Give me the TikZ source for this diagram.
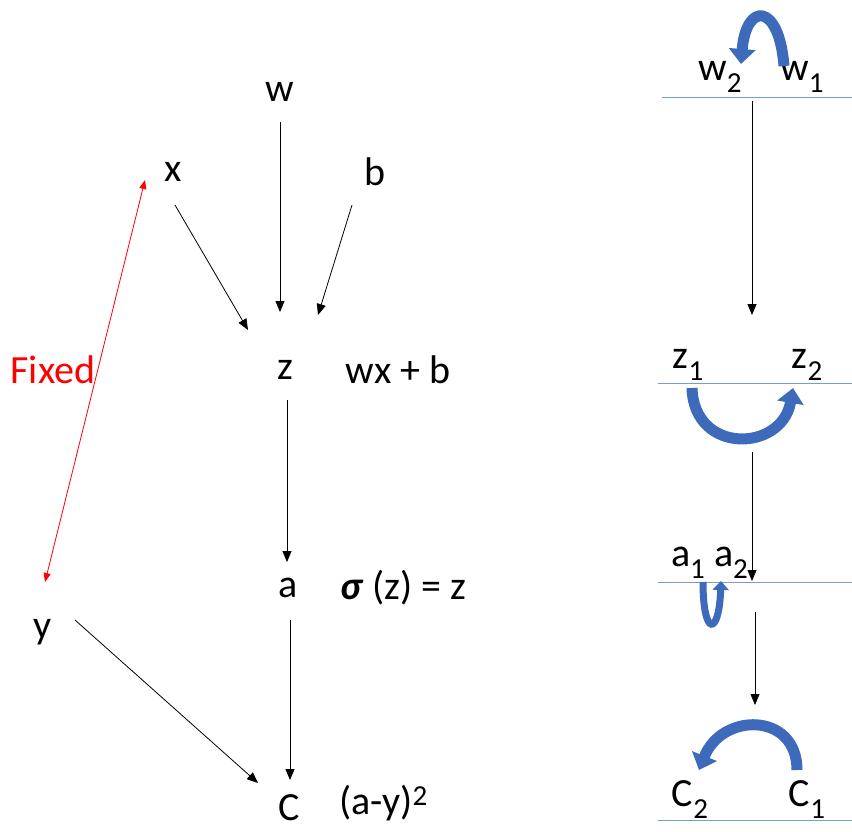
\documentclass[tikz,border=0pt]{standalone}
\usepackage{fontspec}
\setmainfont{Carlito}
\usetikzlibrary{arrows.meta}
\definecolor{bluearc}{RGB}{62,106,188}
\definecolor{lineblue}{RGB}{120,155,215}
\newcommand{\lowidx}[1]{\raisebox{-0.3em}{\fontsize{29}{29}\selectfont #1}}
\begin{document}
\begin{tikzpicture}[x=1pt, y=-1pt, every node/.style={inner sep=0pt, font=\fontsize{40}{46}\selectfont},
  arr/.style={-{Triangle[length=11pt,width=9pt]}, line width=0.8pt},
  fixarr/.style={{Triangle[length=9pt,width=7pt]}-{Triangle[length=9pt,width=7pt]}, red, line width=0.8pt},
  swap/.style={-{Triangle[length=15pt,width=26pt]}, bluearc, line width=11pt},
  level/.style={lineblue, line width=0.8pt}]
  \useasboundingbox (0,0) rectangle (852,831);
  % left graph
  \node (w) at (280,92) {w};
  \node (x) at (173,172) {x};
  \node (b) at (375,172) {b};
  \node (z) at (285,370) {z};
  \node (zf) at (398,370) {wx + b};
  \node[red] (fix) at (53,370) {Fixed};
  \node (a) at (288,588) {a};
  \node[anchor=west] (af) at (340,588) {\textbf{\textit{σ}} (z) = z};
  \node (y) at (43,632) {y};
  \node (C) at (289,808) {C};
  \node[anchor=west] (cf) at (339,803) {(a-y)\textsuperscript{\fontsize{29}{29}\selectfont 2}};
  \draw[arr] ([shift={(0,30)}]w.center) -- ([shift={(-5,-58)}]z.center);
  \draw[arr] ([shift={(2,33)}]x.center) -- ([shift={(-37,-40)}]z.center);
  \draw[arr] ([shift={(-23,33)}]b.center) -- ([shift={(33,-55)}]z.center);
  \draw[arr] ([shift={(2,30)}]z.center) -- ([shift={(-1,-26)}]a.center);
  \draw[arr] ([shift={(2,32)}]a.center) -- ([shift={(1,-28)}]C.center);
  \draw[arr] ([shift={(32,-12)}]y.center) -- ([shift={(-31,-25)}]C.center);
  \draw[fixarr] ([shift={(-28,8)}]x.center) -- ([shift={(2,-50)}]y.center);
  % right column
  \node (w2) at (720,77) {w\lowidx{2}};
  \node (w1) at (802,77) {w\lowidx{1}};
  \node (z1) at (688,365) {z\lowidx{1}};
  \node (z2) at (807,365) {z\lowidx{2}};
  \node (a1) at (688,563) {a\lowidx{1}};
  \node (a2) at (731,563) {a\lowidx{2}};
  \node (c2) at (690,800) {C\lowidx{2}};
  \node (c1) at (807,800) {C\lowidx{1}};
  \draw[level] (662,97) -- (852,97);
  \draw[level] (658,383) -- (852,383);
  \draw[level] (658,582) -- (852,582);
  \draw[level] (658,820) -- (852,820);
  \coordinate (p1) at (752,101);
  \coordinate (p2) at (752,315);
  \coordinate (p3) at (752,452);
  \coordinate (p4) at (752,581);
  \coordinate (p5) at (755,612);
  \coordinate (p6) at (755,705);
  \draw[arr] (p1) -- (p2);
  \draw[arr] (p3) -- (p4);
  \draw[arr] (p5) -- (p6);
  % swap arcs
  \draw[swap] (784,66) .. controls (779,2) and (746,2) .. (741,64);
  \draw[swap] (692,388) .. controls (694,455) and (782,452) .. (793,388);
  \draw[swap, line width=7pt, -{Triangle[length=9pt,width=16pt]}] (703,582) .. controls (703,637) and (719,637) .. (721,581);
  \draw[swap] (797,770) .. controls (797,712) and (722,712) .. (699,770);
\end{tikzpicture}
\end{document}
